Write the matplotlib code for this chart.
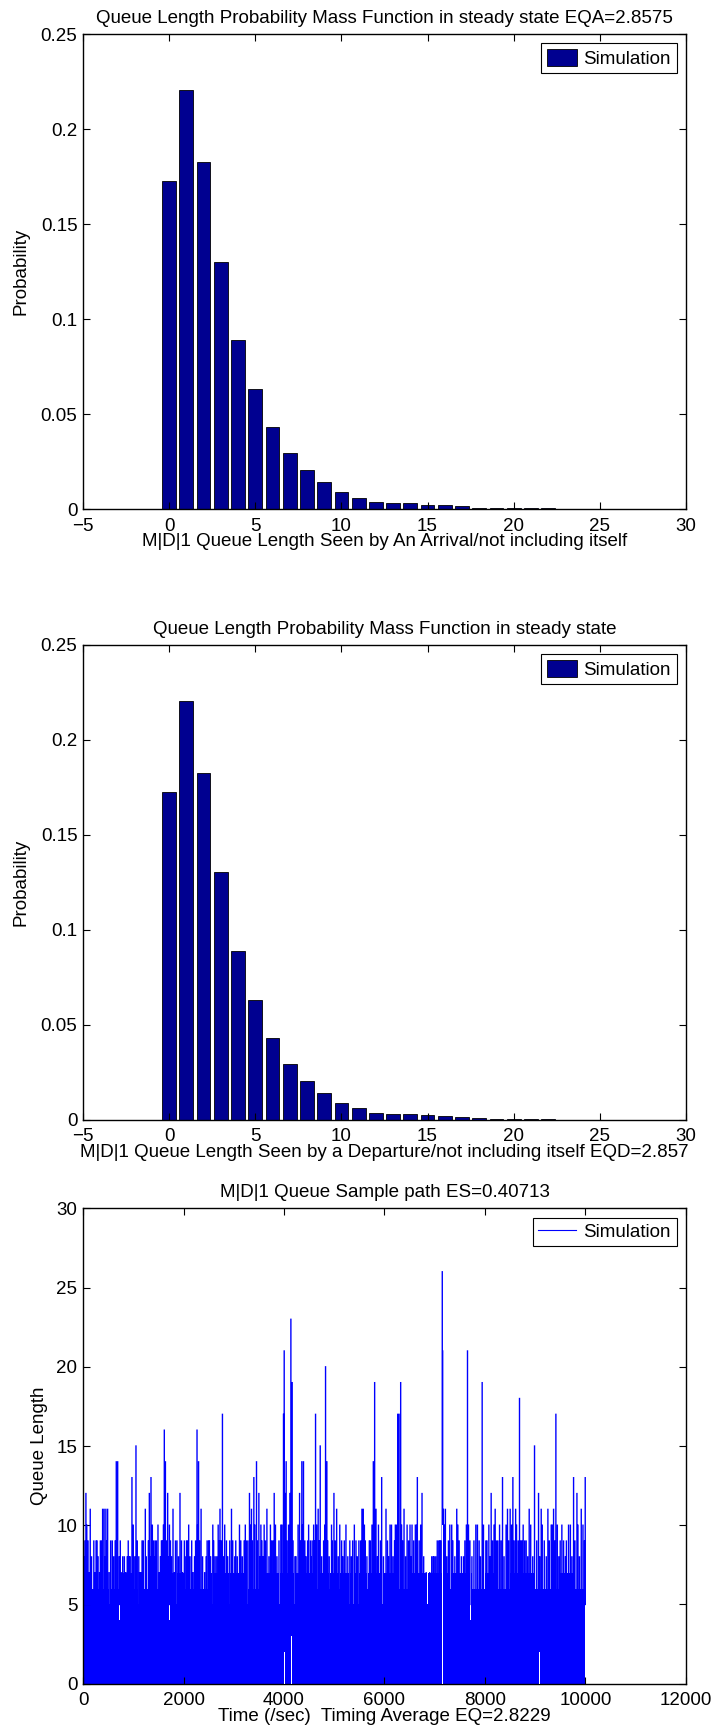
import numpy as np
import matplotlib
matplotlib.use("Agg")
import matplotlib.pyplot as plt
from matplotlib.lines import Line2D

plt.rcParams['font.family'] = ['Liberation Sans', 'DejaVu Sans']

# ---- queue length PMF (seen by an arrival / by a departure) ----
queue_len = list(range(0, 27))
pmf_arrival = [0.1725, 0.2204, 0.1827, 0.1303, 0.0889, 0.0633, 0.0431, 0.0295,
               0.0207, 0.0142, 0.0090, 0.0061, 0.0038, 0.0033, 0.0033, 0.0024,
               0.0020, 0.0016, 0.0009, 0.0007, 0.0005, 0.0007, 0.0004, 0.0002,
               0.0001, 0.0001, 0.0001]
pmf_departure = [0.1725, 0.2204, 0.1827, 0.1303, 0.0889, 0.0633, 0.0431, 0.0295,
                 0.0207, 0.0142, 0.0090, 0.0061, 0.0038, 0.0033, 0.0033, 0.0024,
                 0.0020, 0.0016, 0.0009, 0.0007, 0.0005, 0.0007, 0.0004, 0.0002,
                 0.0001, 0.0001, 0.0001]
pmf_xticks = [-5, 0, 5, 10, 15, 20, 25, 30]
pmf_yticks = [0, 0.05, 0.1, 0.15, 0.2, 0.25]
pmf_yticklabels = ['0', '0.05', '0.1', '0.15', '0.2', '0.25']

# ---- sample path: large excursions of the queue length (time in s, length) ----
peak_t = [38, 58, 75, 144, 215, 280, 345, 390, 420, 455, 490, 583, 662, 690, 742,
          823, 880, 920, 974, 1000, 1054, 1127, 1175, 1240, 1320, 1353, 1400, 1432,
          1492, 1560, 1618, 1640, 1685, 1740, 1791, 1870, 1930, 1960, 2017, 2060,
          2103, 2163, 2240, 2269, 2300, 2350, 2450, 2500,
          2516, 2583, 2662, 2710, 2726, 2775, 2855, 2955, 3020, 3114, 3207, 3250,
          3313, 3353, 3400, 3453, 3500, 3560, 3605, 3660, 3752, 3805, 3937, 3990,
          4004, 4043, 4117, 4137, 4163, 4217, 4310, 4355, 4388, 4415, 4525, 4560,
          4628, 4680, 4721, 4788, 4827, 4853, 4946,
          4994, 5048, 5147, 5233, 5366, 5433, 5525, 5551, 5578, 5618, 5698, 5751,
          5778, 5804, 5831, 5944, 6030, 6110, 6216, 6263, 6290, 6322, 6389, 6508,
          6548, 6614, 6654, 6747, 6970, 7050, 7100, 7150, 7158, 7172, 7212, 7272,
          7338, 7438,
          7486, 7572, 7652, 7672, 7818, 7884, 7944, 8017, 8077, 8123, 8203, 8256,
          8349, 8448, 8501, 8555, 8628, 8687, 8735, 8790, 8880, 8986, 9066, 9119,
          9252, 9318, 9365, 9411, 9497, 9564, 9663, 9763, 9830, 9916, 9995]
peak_q = [9, 12, 10, 11, 9, 9, 9, 11, 11, 11, 11, 9, 14, 14, 9,
          8, 8, 8, 13, 10, 15, 7, 9, 11, 12, 13, 9, 9,
          10, 9, 16, 14, 12, 9, 11, 9, 12, 9, 9, 9,
          10, 9, 9, 16, 14, 11, 8, 9,
          9, 10, 8, 9, 11, 17, 9, 11, 8, 10, 9, 9,
          12, 11, 13, 14, 12, 9, 10, 11, 9, 12, 10, 17,
          21, 14, 12, 23, 19, 8, 12, 14, 14, 9, 9, 9,
          17, 11, 15, 9, 20, 14, 10,
          12, 11, 9, 10, 9, 9, 9, 11, 11, 9, 9, 10,
          14, 19, 11, 13, 11, 10, 10, 17, 17, 19, 11, 10,
          10, 10, 13, 12, 8, 9, 9, 26, 21, 11, 11, 9,
          10, 11,
          9, 8, 21, 10, 10, 9, 19, 9, 10, 12, 11, 9,
          13, 11, 11, 13, 10, 18, 9, 9, 11, 15, 12, 11,
          11, 10, 11, 17, 9, 9, 10, 13, 12, 11, 13]

# smaller excursions above the band (time in s, length)
minor_t = [20, 100, 120, 170, 240, 260, 300, 330, 370, 440, 470,
           520, 550, 610, 640, 720, 760, 790, 850, 900, 940, 990,
           1030, 1080, 1110, 1150, 1200, 1260, 1300, 1340, 1380, 1420, 1460,
           1520, 1540, 1580, 1600, 1660, 1700, 1720, 1760, 1820, 1840, 1900, 1980,
           2030, 2080, 2130, 2190, 2220, 2280, 2320, 2380, 2420, 2470,
           2540, 2600, 2630, 2690, 2750, 2800, 2820, 2880, 2920, 2980,
           3040, 3070, 3140, 3170, 3230, 3280, 3330, 3370, 3420, 3470,
           3520, 3540, 3580, 3630, 3700, 3730, 3780, 3830, 3860, 3900, 3960,
           4020, 4060, 4090, 4180, 4240, 4280, 4330, 4370, 4440, 4470, 4490,
           4540, 4590, 4610, 4650, 4700, 4750, 4810, 4870, 4900, 4960,
           5020, 5080, 5110, 5170, 5200, 5270, 5310, 5340, 5400, 5460, 5490,
           5600, 5650, 5720, 5860, 5880, 5920, 5980,
           6060, 6080, 6140, 6170, 6200, 6240, 6340, 6360, 6420, 6450, 6480,
           6530, 6580, 6640, 6690, 6720, 6780, 6830, 6900, 6940, 6990,
           7020, 7080, 7120, 7190, 7240, 7300, 7360, 7400, 7460,
           7530, 7600, 7630, 7700, 7740, 7780, 7850, 7910, 7970,
           8040, 8100, 8150, 8180, 8230, 8290, 8320, 8380, 8420, 8470,
           8530, 8580, 8610, 8660, 8710, 8760, 8820, 8850, 8910, 8950,
           9030, 9090, 9140, 9180, 9220, 9280, 9340, 9390, 9440, 9470,
           9530, 9600, 9620, 9700, 9730, 9790, 9850, 9880, 9950, 9980]
minor_q = [8, 9, 7, 8, 7, 9, 8, 7, 9, 8, 9,
           7, 9, 8, 9, 8, 7, 8, 7, 9, 8, 9,
           8, 9, 8, 7, 9, 8, 9, 8, 10, 8, 9,
           7, 8, 9, 10, 9, 8, 10, 8, 7, 9, 8, 7,
           8, 9, 8, 7, 8, 10, 9, 8, 7, 9,
           8, 9, 8, 10, 9, 8, 10, 8, 9, 9,
           9, 8, 9, 8, 10, 9, 10, 9, 10, 9,
           8, 10, 8, 9, 8, 10, 9, 10, 8, 9, 10,
           12, 9, 10, 9, 8, 10, 9, 10, 8, 9, 10,
           8, 10, 9, 10, 9, 8, 10, 9, 8, 9,
           9, 8, 10, 8, 9, 8, 9, 8, 10, 8, 9,
           10, 8, 9, 8, 10, 9, 8,
           9, 8, 10, 8, 9, 10, 10, 9, 8, 10, 9,
           8, 9, 10, 9, 10, 8, 7, 7, 8, 8,
           8, 9, 9, 10, 8, 10, 9, 8, 10,
           8, 9, 10, 9, 8, 9, 10, 8, 10,
           9, 8, 9, 10, 9, 10, 9, 8, 10, 9,
           10, 9, 11, 9, 9, 10, 9, 8, 10, 8,
           9, 8, 10, 9, 8, 9, 10, 9, 10, 8,
           10, 8, 9, 10, 8, 9, 10, 8, 10, 9]

# level the path keeps crossing (solid band), one value per 250 s
band_t = list(range(0, 10000, 250))
band_q = [6, 6, 6, 7, 6, 6, 6, 7, 6, 6,
          7, 7, 7, 6, 7, 7, 7, 7, 7, 7,
          7, 7, 7, 7, 7, 6, 7, 7, 7, 7,
          7, 6, 7, 6, 7, 7, 6, 6, 7, 6]
# short dips of the band top (time, level)
dip_t = [160, 310, 520, 709, 890, 1087, 1286, 1450, 1718, 1851, 2050, 2203, 2402,
         2570, 2700, 2908, 3100, 3273, 3450, 3620, 3898, 4196, 4269, 4400, 4515,
         4650, 4781, 4900, 5100, 5300, 5380, 5479, 5650, 5800, 5957, 6100, 6420,
         6560, 6840, 7300, 7450, 7705, 7950, 8170, 8400, 8600, 8847, 8946, 9185,
         9350, 9550, 9800]
dip_q = [5, 5, 5, 4, 5, 5, 5, 5, 4, 5, 5, 5, 5,
         5, 6, 5, 6, 5, 6, 6, 5, 5, 5, 6, 5,
         6, 5, 6, 6, 5, 5, 5, 6, 6, 5, 6, 6,
         6, 5, 6, 6, 4, 6, 5, 6, 6, 5, 5, 5,
         6, 5, 6]
# stretches where the queue never emptied (time, lowest level)
busy_t = [3995, 4135, 7142, 9082]
busy_q = [2, 3, 10, 2]

t_end = 10000
bar_color = '#000090'
fs = 13.5

fig = plt.figure(figsize=(7.15, 17.35), dpi=100)
W = 0.8433
L = 0.1161
H = 0.2739
ax1 = fig.add_axes([L, 0.7065, W, H])
ax2 = fig.add_axes([L, 0.3545, W, H])
ax3 = fig.add_axes([L, 0.0296, W, H])


def style(ax):
    for s in ax.spines.values():
        s.set_linewidth(1.0)
        s.set_color('black')
    ax.tick_params(direction='in', top=True, right=True, length=5, width=0.8,
                   labelsize=fs)
    ax.tick_params(axis='x', pad=6)
    ax.tick_params(axis='y', pad=4)


def pmf_panel(ax, values, title, xlabel):
    ax.bar(queue_len, values, width=0.8, color=bar_color, edgecolor='black',
           linewidth=0.6, label='Simulation')
    ax.set_xlim(-5, 30)
    ax.set_ylim(0, 0.25)
    ax.set_xticks(pmf_xticks)
    ax.set_xticklabels([str(v).replace('-', '\u2212') for v in pmf_xticks])
    ax.set_yticks(pmf_yticks)
    ax.set_yticklabels(pmf_yticklabels)
    ax.set_title(title, fontsize=fs, pad=8)
    ax.set_xlabel(xlabel, fontsize=fs, labelpad=-1)
    ax.set_ylabel('Probability', fontsize=fs, labelpad=8)
    style(ax)
    leg = ax.legend(loc='upper right', fontsize=fs, fancybox=False,
                    edgecolor='black', framealpha=1, borderaxespad=0.5,
                    handlelength=1.6, handleheight=1.0, handletextpad=0.35,
                    borderpad=0.3)
    leg.get_frame().set_linewidth(0.8)


pmf_panel(ax1, pmf_arrival,
          'Queue Length Probability Mass Function in steady state EQA=2.8575',
          'M|D|1 Queue Length Seen by An Arrival/not including itself')
pmf_panel(ax2, pmf_departure,
          'Queue Length Probability Mass Function in steady state',
          'M|D|1 Queue Length Seen by a Departure/not including itself EQD=2.857')

# ---- sample path panel ----
blue = '#0000ff'
# solid band with its dips
bt = []
bq = []
for i, t0 in enumerate(band_t):
    t1 = band_t[i + 1] if i + 1 < len(band_t) else t_end
    pts = [t0]
    lv = [band_q[i]]
    for td, qd in zip(dip_t, dip_q):
        if t0 <= td < t1:
            pts += [td, td + 18]
            lv += [min(qd, band_q[i]), band_q[i]]
    order = np.argsort(pts, kind='stable')
    bt += list(np.array(pts)[order])
    bq += list(np.array(lv)[order])
bt.append(t_end)
bq.append(bq[-1])
ax3.fill_between(bt, 0, bq, step='post', color=blue, linewidth=0)

# vertical excursions up to each local maximum
all_t = np.array(peak_t + minor_t, dtype=float)
all_q = np.array(peak_q + minor_q, dtype=float)
px = np.column_stack([all_t, all_t, np.full(all_t.size, np.nan)]).ravel()
py = np.column_stack([np.full(all_t.size, 5.0), all_q,
                      np.full(all_t.size, np.nan)]).ravel()
ax3.plot(px, py, color=blue, linewidth=1.0)

# white columns where the path stayed above a level
for tb, qb in zip(busy_t, busy_q):
    ax3.fill_between([tb, tb + 20], 0, qb, color='white', linewidth=0, zorder=3)

ax3.set_xlim(0, 12000)
ax3.set_ylim(0, 30)
ax3.set_xticks(range(0, 12001, 2000))
ax3.set_yticks(range(0, 31, 5))
ax3.set_title('M|D|1 Queue Sample path ES=0.40713', fontsize=fs, pad=8)
ax3.set_xlabel('Time (/sec)  Timing Average EQ=2.8229', fontsize=fs, labelpad=-1)
ax3.set_ylabel('Queue Length', fontsize=fs, labelpad=6)
style(ax3)
h = Line2D([], [], color=blue, linewidth=0.8)
leg = ax3.legend([h], ['Simulation'], loc='upper right', fontsize=fs,
                 fancybox=False, edgecolor='black', framealpha=1,
                 borderaxespad=0.5, handlelength=2.0, handletextpad=0.4,
                 borderpad=0.3)
leg.get_frame().set_linewidth(0.8)

fig.savefig('out.png', dpi=100, facecolor='white')
